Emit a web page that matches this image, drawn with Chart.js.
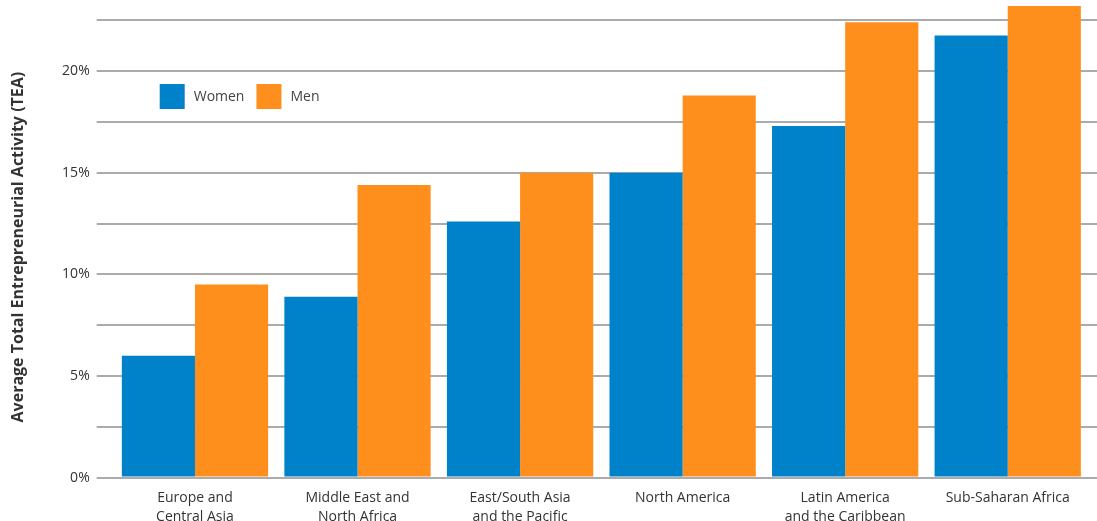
<!DOCTYPE html>
<html>
<head>
<meta charset="utf-8">
<script src="https://cdn.jsdelivr.net/npm/chart.js@4.4.1/dist/chart.umd.min.js"></script>
<style>
  html, body { margin: 0; padding: 0; background: #fff; }
  #wrap { width: 1097px; height: 521px; }
</style>
</head>
<body>
<div id="wrap"><canvas id="teaChart"></canvas></div>
<script>
const regions = [
  ["Europe and", "Central Asia"],
  ["Middle East and", "North Africa"],
  ["East/South Asia", "and the Pacific"],
  ["North America"],
  ["Latin America", "and the Caribbean"],
  ["Sub-Saharan Africa"]
];
const women = [6.0, 8.9, 12.6, 15.0, 17.3, 21.75];
const men = [9.5, 14.4, 15.0, 18.8, 22.4, 23.2];
const yTicks = [0, 2.5, 5, 7.5, 10, 12.5, 15, 17.5, 20, 22.5];

const blue = "#0082ca";
const orange = "#ff8f1c";
const gridColor = "#ababab";

Chart.defaults.font.family = "'Open Sans', sans-serif";
Chart.defaults.color = "#333";

// legend sits inside the plot, top left
const insideLegend = {
  id: "insideLegend",
  afterDraw(chart) {
    const ctx = chart.ctx;
    let x = chart.chartArea.left + 46;
    const y = 84;
    ctx.save();
    ctx.font = "14px 'Open Sans'";
    ctx.textBaseline = "middle";
    chart.data.datasets.forEach(ds => {
      ctx.fillStyle = ds.backgroundColor;
      ctx.fillRect(x, y, 25, 25);
      ctx.fillStyle = "#444";
      ctx.fillText(ds.label, x + 34, y + 13);
      x += 34 + ctx.measureText(ds.label).width + 12;
    });
    ctx.restore();
  }
};

const setTicks = scale => {
  scale.ticks = yTicks.map(v => ({ value: v }));
};

new Chart(document.getElementById("teaChart").getContext("2d"), {
  type: "bar",
  data: {
    labels: regions,
    datasets: [
      { label: "Women", data: women, backgroundColor: blue, borderWidth: 0, categoryPercentage: 0.9, barPercentage: 1.0 },
      { label: "Men", data: men, backgroundColor: orange, borderWidth: 0, categoryPercentage: 0.9, barPercentage: 1.0 }
    ]
  },
  options: {
    responsive: true,
    maintainAspectRatio: false,
    animation: false,
    plugins: {
      legend: { display: false },
      tooltip: { enabled: false }
    },
    scales: {
      x: {
        grid: { display: false },
        border: { display: false },
        ticks: {
          padding: 3,
          maxRotation: 0,
          autoSkip: false,
          font: { size: 14, lineHeight: 1.35 }
        },
        afterFit(scale) {
          scale.height = 43.4;
        }
      },
      y: {
        min: 0,
        max: 23.5,
        afterBuildTicks: setTicks,
        afterFit(scale) {
          scale.width = 113.7;
          scale.paddingTop = 0;
        },
        grid: { color: gridColor, lineWidth: 2, tickLength: 17 },
        border: { display: false },
        ticks: {
          padding: 7,
          font: { size: 14 },
          callback: v => (v % 5 === 0 ? v + "%" : "")
        },
        title: {
          display: true,
          // trailing spaces nudge the rotated title a bit lower
          text: "Average Total Entrepreneurial Activity (TEA)    ",
          font: { size: 16, weight: "bold" },
          padding: { top: 9, bottom: 0 }
        }
      },
      yRight: {
        position: "right",
        min: 0,
        max: 23.5,
        afterBuildTicks: setTicks,
        grid: { drawOnChartArea: false, color: gridColor, lineWidth: 2, tickLength: 8 },
        border: { display: false },
        ticks: { display: false }
      }
    }
  },
  plugins: [insideLegend]
});
</script>
</body>
</html>
